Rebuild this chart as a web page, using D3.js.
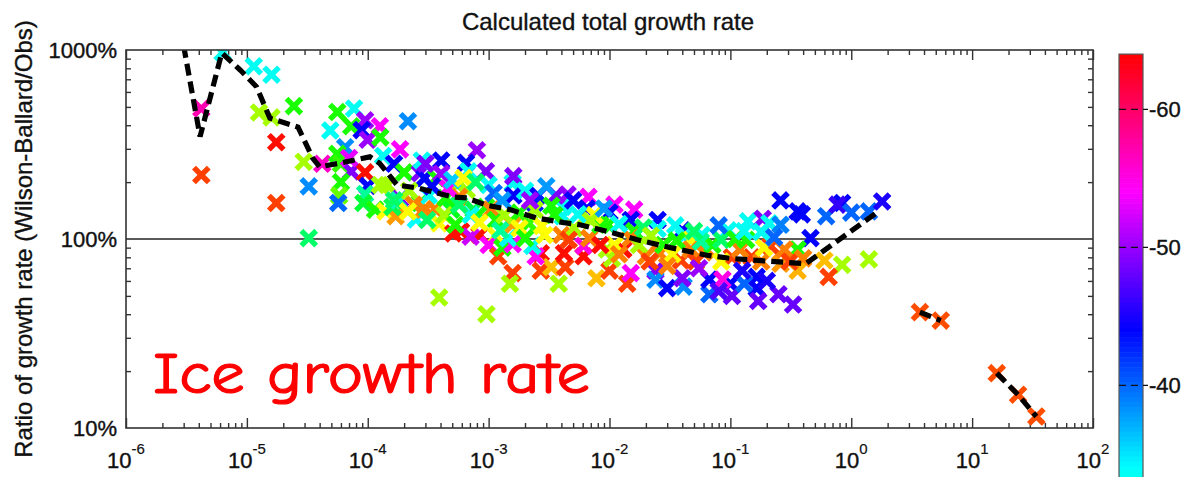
<!DOCTYPE html>
<html>
<head>
<meta charset="utf-8">
<script src="https://cdn.jsdelivr.net/npm/d3@7"></script>
<style>
body { margin: 0; background: #fff; }
svg { display: block; font-family: "Liberation Sans", Arial, Helvetica, sans-serif; }
</style>
</head>
<body>
<div class="chart"></div>
<script>
// [size, ratio %, temperature C]
var points = [
  [6.3e-6, 970, -33.5], [4.2e-6, 490, -57], [4.2e-6, 218, -6.5], [1.14e-5, 820, -33.5], [1.6e-5, 740, -33.5],
  [1.26e-5, 467, -17.5], [1.6e-5, 440, -17.5], [2.45e-5, 505, -23], [1.75e-5, 325, -4.5], [1.75e-5, 155, -6.5],
  [2.95e-5, 256, -17.5], [3.25e-5, 190, -38.5], [3.25e-5, 101, -28], [4.2e-5, 250, -56], [5.6e-5, 470, -23],
  [7.7e-5, 490, -33.5], [4.9e-5, 375, -33.5], [7.3e-5, 395, -23], [9.5e-5, 425, -50], [8.9e-5, 377, -44],
  [1.0e-4, 335, -50], [1.26e-4, 395, -54], [1.27e-4, 345, -23], [6.5e-5, 306, -38.5], [5.6e-5, 282, -23],
  [6.0e-5, 250, -22], [7.3e-5, 228, -49], [9.5e-5, 225, -4.5], [1.34e-4, 275, -33.5], [6.0e-5, 200, -23],
  [5.8e-5, 170, -20], [5.7e-5, 155, -40], [1.0e-4, 191, -44], [9.5e-5, 173, -30], [9.2e-5, 155, -26],
  [1.26e-4, 193, -17.5], [1.45e-4, 193, -17.5], [1.15e-4, 143, -23], [1.4e-4, 140, -14], [1.7e-4, 132, -10],
  [7.0e-5, 268, -53], [2.15e-4, 420, -38.5], [1.85e-4, 298, -54], [1.65e-4, 250, -44], [2.0e-4, 225, -23],
  [1.6e-4, 148, -27], [2.5e-4, 127, -34], [1.85e-4, 163, -49], [1.8e-4, 160, -31], [2.7e-4, 223, -49],
  [2.95e-4, 210, -44], [2.8e-4, 260, -33.5], [2.9e-4, 143, -10], [2.7e-4, 155, -23],
  [4.05e-4, 260, -44], [8.0e-4, 295, -50], [6.5e-4, 253, -44], [6.8e-4, 228, -33.5], [9.5e-4, 228, -49],
  [3.7e-4, 210, -23], [1.0e-3, 193, -33.5], [1.58e-3, 197, -33.5], [1.6e-3, 215, -49], [1.6e-3, 170, -44],
  [2.55e-3, 170, -44], [2.4e-3, 155, -43], [4.1e-3, 148, -33.5], [3.6e-3, 170, -49], [4.5e-3, 172, -50],
  [5.5e-4, 193, -17.5], [6.6e-4, 182, -17.5], [3.0e-4, 145, -9], [3.6e-4, 144, -9], [5.7e-4, 167, -9],
  [4.4e-4, 165, -23], [4.9e-4, 143, -25], [3.9e-4, 121, -14], [7.5e-4, 143, -27], [9.5e-4, 148, -23],
  [1.05e-3, 143, -9], [1.15e-3, 126, -23], [1.58e-3, 119, -10], [1.8e-3, 138, -23], [2.15e-3, 121, -22],
  [2.4e-3, 143, -17.5], [2.75e-3, 117, -14], [4.1e-3, 132, -33.5], [4.0e-3, 105, -9], [5.1e-4, 107, -4.5],
  [5.9e-4, 110, -4.5], [8.4e-4, 105, -4.5], [7.1e-4, 103, -52], [1.15e-3, 104, -14], [1.0e-3, 93, -54],
  [1.2e-3, 81, -6.5], [1.3e-3, 90, -23], [1.58e-3, 94, -54], [1.45e-3, 101, -33.5], [1.58e-3, 66, -6.5],
  [1.5e-3, 58, -17.5], [2.7e-3, 84, -4.5], [2.7e-3, 68, -6.5], [3.3e-3, 71, -11.5], [3.8e-3, 58, -17.5],
  [4.3e-3, 71, -6.5], [4.2e-3, 84, -4.5], [2.45e-3, 81, -54], [2.3e-3, 92, -33.5], [3.9e-4, 49, -17.5],
  [9.6e-4, 40, -17.5], [7.8e-3, 62, -11.5], [6.1e-3, 81, -4.5], [6.1e-3, 92, -55], [1.0e-2, 68, -6.5],
  [1.05e-2, 79, -17.5], [1.3e-2, 88, -4.5], [1.4e-2, 58, -6.5], [1.5e-2, 66, -54], [2.4e-2, 68, -49],
  [2.4e-2, 61, -38.5], [3.0e-2, 55, -44], [4.1e-2, 56, -38.5], [4.0e-2, 62, -49], [6.7e-2, 51, -40],
  [6.7e-2, 61, -44], [1.0e-1, 58, -44], [1.03e-1, 50, -48], [1.65e-1, 55, -44], [1.7e-1, 47, -48],
  [2.5e-1, 51, -48], [3.3e-1, 45, -48], [1.65e-1, 63, -44],
  [3.0e-4, 250, -49], [4.05e-4, 222, -50], [6.7e-3, 167, -54], [6.5e-3, 145, -44], [1.1e-2, 152, -54],
  [1.0e-2, 138, -44], [1.6e-2, 143, -54], [2.5e-2, 126, -44], [4.0e-2, 111, -44], [5.8e-2, 105, -33.5],
  [9.6e-2, 111, -33.5], [1.4e-1, 124, -33.5], [1.85e-1, 128, -49], [2.6e-1, 160, -44], [2.1e-1, 121, -33.5],
  [3.6e-1, 140, -44], [9.7e-3, 119, -23], [9.5e-3, 88, -17.5], [1.5e-2, 126, -44], [1.6e-2, 110, -23],
  [1.5e-2, 101, -9], [2.0e-2, 81, -9], [2.5e-2, 113, -33.5], [2.6e-2, 84, -9], [3.9e-2, 77, -6.5],
  [4.1e-2, 103, -33.5], [4.7e-2, 99, -14], [6.3e-2, 88, -9], [3.9e-1, 135, -44], [6.2e-1, 132, -40],
  [8.4e-1, 155, -44], [7.7e-1, 152, -46], [1.0, 138, -40], [1.4, 140, -40], [1.8, 158, -45],
  [2.6e-1, 119, -39], [4.6e-1, 101, -44], [3.6e-1, 88, -23], [6.0e-1, 77, -11.5], [8.4e-1, 73, -17.5],
  [1.4, 78, -17.5], [6.5e-1, 63, -6.5], [3.6e-1, 68, -11], [6.0e-2, 85, -9], [1.03e-1, 80, -6.5],
  [1.5e-1, 80, -6.5], [2.15e-1, 92, -6.5], [2.6e-1, 74, -10], [8.6e-2, 61, -55], [1.3e-1, 58, -40],
  [1.1e-2, 93, -14], [1.2e-2, 83, -9], [1.75e-2, 93, -17.5], [2.15e-2, 76, -6.5], [2.8e-2, 93, -23],
  [3.3e-2, 83, -14], [4.7e-2, 88, -9], [5.2e-2, 76, -6.5], [7.1e-2, 93, -23], [8.4e-2, 76, -14],
  [1.2e-1, 88, -9], [1.35e-1, 99, -23], [1.8e-1, 76, -9], [1.9e-1, 90, -14], [2.8e-1, 88, -9],
  [3.1e-1, 76, -6.5], [4.0e-1, 79, -9], [8.4e-2, 99, -28], [5.7e-2, 97, -30], [1.8e-1, 109, -33.5],
  [2.9e-3, 105, -14], [5.1e-3, 114, -17.5], [6.8e-3, 101, -9], [8.4e-3, 119, -23], [3.5e-3, 134, -23],
  [4.6e-3, 99, -6.5], [7.5e-3, 134, -14], [8.4e-3, 93, -4.5], [4.3e-4, 134, -17.5], [5.3e-4, 119, -23],
  [7.1e-4, 134, -33.5], [8.4e-4, 122, -14], [1.35e-3, 134, -17.5], [1.8e-3, 114, -14], [2.0e-3, 101, -23],
  [1.25e-3, 111, -30], [5.7e-4, 152, -28], [3.2e-4, 170, -33.5], [2.2e-4, 180, -17.5], [2.4e-4, 152, -9],
  [1.65e-4, 160, -28], [2.15e-4, 140, -14], [3.1e-4, 126, -28],
  [3.4e-4, 190, -44], [4.6e-4, 185, -54], [5.0e-4, 205, -36], [6.2e-4, 210, -14], [7.8e-4, 200, -28],
  [1.1e-3, 175, -40], [1.3e-3, 160, -38], [2.0e-3, 180, -33.5], [2.2e-3, 160, -50], [3.0e-3, 190, -38],
  [3.3e-3, 150, -23], [5.0e-3, 160, -44], [5.5e-3, 135, -33.5], [7.0e-3, 125, -17.5], [9.0e-3, 145, -38],
  [1.2e-2, 120, -33.5], [1.9e-2, 115, -28], [2.2e-2, 104, -17.5], [3.5e-2, 118, -33.5], [3.6e-2, 98, -23],
  [5.0e-2, 110, -28], [8.0e-2, 118, -40], [1.1e-1, 100, -23], [1.3e-1, 110, -33.5], [2.3e-1, 102, -40],
  [5.5e-2, 70, -50], [8.0e-2, 53, -47], [1.25e-1, 68, -45], [2.0e-1, 60, -45], [3.0e-2, 72, -9],
  [3.7, 41, -7], [5.5, 37, -7], [16, 19.5, -7], [24, 15, -7], [34, 11.5, -7]
];

// binned mean, null = gap
var trend = [
  [3.0e-6, 1050], [4.1e-6, 348], [6.2e-6, 965], [8.8e-6, 784], [1.2e-5, 640], [1.55e-5, 436],
  [2.65e-5, 391], [3.5e-5, 268], [4.0e-5, 241], [5.9e-5, 252], [1.04e-4, 272], [1.25e-4, 252],
  [1.75e-4, 193], [2.6e-4, 186], [5.0e-4, 167], [6.6e-4, 165], [9.6e-4, 151], [1.5e-3, 143],
  [2.5e-3, 129], [4.2e-3, 122], [5.7e-3, 119], [1.06e-2, 108], [1.7e-2, 99], [3.2e-2, 90],
  [6.4e-2, 82], [1.0e-1, 79], [1.67e-1, 77], [4.2e-1, 74], [1.6, 137], null,
  [3.7, 41], [5.5, 37], null,
  [16, 19.5], [24, 15], [34, 11.5]
];

var xExponents = [-6, -5, -4, -3, -2, -1, 0, 1, 2];
var yLabels = [10, 100, 1000];
var tempTicks = [-60, -50, -40];
var tempRange = [-64, -4];

var svgWidth = 1191;
var svgHeight = 477;
var margin = { top: 50, right: 98, bottom: 49, left: 126 };
var width = svgWidth - margin.left - margin.right;
var height = svgHeight - margin.top - margin.bottom;

var svg = d3.select(".chart")
  .append("svg")
  .attr("width", svgWidth)
  .attr("height", svgHeight);

var xScale = d3.scaleLog().domain([1e-6, 1e2]).range([0, width]);
var yScale = d3.scaleLog().domain([10, 1000]).range([height, 0]);
var hueScale = d3.scaleLinear().domain(tempRange).range([360, 0]);
function tempColor(t) { return d3.hsl(hueScale(t), 1, 0.5).toString(); }

svg.append("defs").append("clipPath").attr("id", "plotClip")
  .append("rect").attr("width", width).attr("height", height);

var chartGroup = svg.append("g")
  .attr("transform", `translate(${margin.left}, ${margin.top})`);

// minor / major tick values
var xMajor = xExponents.map(e => Math.pow(10, e));
var xMinor = [];
xExponents.slice(0, -1).forEach(function (e) {
  for (var m = 2; m <= 9; m++) xMinor.push(m * Math.pow(10, e));
});
var yMinor = [];
[10, 100].forEach(function (b) {
  for (var m = 2; m <= 9; m++) yMinor.push(m * b);
});

function tickGroup(axis, transform) {
  var g = chartGroup.append("g").attr("transform", transform).call(axis);
  g.select(".domain").remove();
  g.selectAll("line").attr("stroke", "#333").attr("stroke-width", 1.4);
  g.selectAll("text").remove();
}

tickGroup(d3.axisBottom(xScale).tickValues(xMajor).tickSize(-10), `translate(0, ${height})`);
tickGroup(d3.axisBottom(xScale).tickValues(xMinor).tickSize(-5), `translate(0, ${height})`);
tickGroup(d3.axisTop(xScale).tickValues(xMajor).tickSize(-10), "translate(0, 0)");
tickGroup(d3.axisTop(xScale).tickValues(xMinor).tickSize(-5), "translate(0, 0)");
tickGroup(d3.axisLeft(yScale).tickValues(yMinor).tickSize(-5), "translate(0, 0)");
tickGroup(d3.axisRight(yScale).tickValues(yMinor).tickSize(-5), `translate(${width}, 0)`);

// 100% reference line
chartGroup.append("line")
  .attr("x1", 0).attr("x2", width)
  .attr("y1", yScale(100)).attr("y2", yScale(100))
  .attr("stroke", "#222").attr("stroke-width", 1.3);

var plotArea = chartGroup.append("g").attr("clip-path", "url(#plotClip)");

plotArea.selectAll("path.marker")
  .data(points)
  .enter()
  .append("path")
  .attr("class", "marker")
  .attr("transform", d => `translate(${xScale(d[0])}, ${yScale(d[1])})`)
  .attr("d", "M-5.5,-5.5L5.5,5.5M-5.5,5.5L5.5,-5.5")
  .attr("stroke", d => tempColor(d[2]))
  .attr("stroke-width", 5.4)
  .attr("stroke-linecap", "square")
  .attr("fill", "none");

var trendLine = d3.line()
  .defined(d => d !== null)
  .x(d => xScale(d[0]))
  .y(d => yScale(d[1]));

plotArea.append("path")
  .datum(trend)
  .attr("d", trendLine)
  .attr("fill", "none")
  .attr("stroke", "black")
  .attr("stroke-width", 5.2)
  .attr("stroke-dasharray", "12,6");

chartGroup.append("rect")
  .attr("width", width).attr("height", height)
  .attr("fill", "none").attr("stroke", "#333").attr("stroke-width", 1.6);

// axis labels
chartGroup.selectAll("text.ylab")
  .data(yLabels)
  .enter()
  .append("text")
  .attr("class", "ylab")
  .attr("x", -9)
  .attr("y", d => yScale(d) + 7.5)
  .attr("text-anchor", "end")
  .attr("font-size", "22px")
  .attr("fill", "#111")
  .attr("stroke", "#111")
  .attr("stroke-width", 0.4)
  .text(d => d + "%");

var xLab = chartGroup.selectAll("text.xlab")
  .data(xExponents)
  .enter()
  .append("text")
  .attr("class", "xlab")
  .attr("x", d => xScale(Math.pow(10, d)))
  .attr("y", height + 40)
  .attr("text-anchor", "middle")
  .attr("font-size", "22px")
  .attr("fill", "#111")
  .attr("stroke", "#111")
  .attr("stroke-width", 0.4);
xLab.append("tspan").text("10");
xLab.append("tspan").attr("dy", -14).attr("font-size", "15px").attr("stroke-width", 0.2).text(d => String(d));

svg.append("text")
  .attr("x", 608)
  .attr("y", 30)
  .attr("text-anchor", "middle")
  .attr("font-size", "24px")
  .attr("fill", "#111")
  .attr("stroke", "#111")
  .attr("stroke-width", 0.35)
  .text("Calculated total growth rate");

svg.append("text")
  .attr("transform", "translate(32, 239) rotate(-90)")
  .attr("text-anchor", "middle")
  .attr("font-size", "24px")
  .attr("fill", "#111")
  .attr("stroke", "#111")
  .attr("stroke-width", 0.35)
  .text("Ratio of growth rate (Wilson-Ballard/Obs)");

svg.append("text")
  .attr("x", 153)
  .attr("y", 393)
  .attr("font-family", "'Comic Sans MS', 'Comic Neue', 'Open Sans', sans-serif")
  .attr("font-size", "58px")
  .attr("fill", "#ff0000")
  .attr("stroke", "#ff0000")
  .attr("stroke-width", 1.2)
  .attr("textLength", 437)
  .attr("lengthAdjust", "spacingAndGlyphs")
  .text("Ice growth rate");

// colour bar
var cbX = 1119, cbW = 24;
var cbScale = d3.scaleLinear().domain([-60, -40]).range([109.3, 385.3]);
var step = 0.36;
var bands = d3.range(tempRange[0], -30, step);

var cb = svg.append("g");
cb.selectAll("rect.band")
  .data(bands)
  .enter()
  .append("rect")
  .attr("class", "band")
  .attr("x", cbX)
  .attr("y", d => cbScale(d))
  .attr("width", cbW)
  .attr("height", d => cbScale(d + step) - cbScale(d) + 0.6)
  .attr("fill", d => tempColor(d + step / 2));

cb.append("rect")
  .attr("x", cbX).attr("y", cbScale(tempRange[0]))
  .attr("width", cbW).attr("height", 500)
  .attr("fill", "none").attr("stroke", "#555").attr("stroke-width", 1.2);

cb.selectAll("line.cbtick")
  .data(tempTicks)
  .enter()
  .append("line")
  .attr("class", "cbtick")
  .attr("x1", cbX).attr("x2", cbX + cbW + 5)
  .attr("y1", d => cbScale(d)).attr("y2", d => cbScale(d))
  .attr("stroke", "#111").attr("stroke-width", 1.3)
  .attr("stroke-dasharray", "7,5");

cb.selectAll("text.cblab")
  .data(tempTicks)
  .enter()
  .append("text")
  .attr("class", "cblab")
  .attr("x", cbX + cbW + 6)
  .attr("y", d => cbScale(d) + 8)
  .attr("font-size", "22px")
  .attr("fill", "#111")
  .attr("stroke", "#111")
  .attr("stroke-width", 0.4)
  .text(d => String(d));
</script>
</body>
</html>
